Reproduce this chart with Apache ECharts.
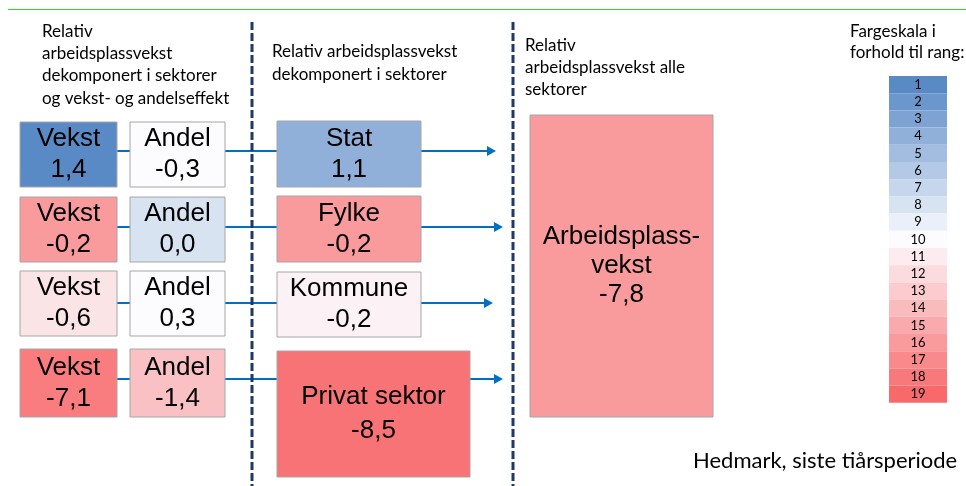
<!DOCTYPE html>
<html>
<head>
<meta charset="utf-8">
<script src="https://cdn.jsdelivr.net/npm/echarts@6/dist/echarts.min.js"></script>
<style>
html, body { margin: 0; padding: 0; background: #fff; }
#main { width: 966px; height: 486px; }
</style>
</head>
<body>
<div id="main"></div>
<script>
// data
var sectors = ['Stat', 'Fylke', 'Kommune', 'Privat sektor'];
var vekstValues = [1.4, -0.2, -0.6, -7.1];
var andelValues = [-0.3, 0.0, 0.3, -1.4];
var sectorValues = [1.1, -0.2, -0.2, -8.5];
var totalValue = -7.8;
// rang for fargeskala (1 = best, 19 = svakest)
var vekstRanks = [1, 16, 11.5, 17.8];
var andelRanks = [10, 8, 10, 13.6];
var sectorRanks = [4, 16, 10.6, 18.4];
var totalRank = 16;
var scaleRanks = [1, 2, 3, 4, 5, 6, 7, 8, 9, 10, 11, 12, 13, 14, 15, 16, 17, 18, 19];

// layout (pixels)
var rowTop = [122, 197, 271, 349];
var rowBottom = [187, 262, 336, 417];
var sectorTop = [121, 196, 272, 351];
var sectorBottom = [187, 262, 337, 477];
var sectorRight = [421, 421, 421, 470];
var arrowY = [151, 227, 303, 379];
var arrowTip = [496, 503, 493, 503];
var vekstX = [20, 117], andelX = [130, 225], sectorLeft = 277;
var scaleX = [889, 947], scaleTop = 76, scaleCell = 17.2;

function fmt(v) {
    return v.toFixed(1).replace('.', ',');
}

var boxes = [];
for (var i = 0; i < sectors.length; i++) {
    boxes.push([vekstX[0], rowTop[i], vekstX[1], rowBottom[i], vekstRanks[i], 'Vekst\n' + fmt(vekstValues[i]), 31]);
    boxes.push([andelX[0], rowTop[i], andelX[1], rowBottom[i], andelRanks[i], 'Andel\n' + fmt(andelValues[i]), 31]);
    boxes.push([sectorLeft, sectorTop[i], sectorRight[i], sectorBottom[i], sectorRanks[i], sectors[i] + '\n' + fmt(sectorValues[i]), i === 3 ? 34 : 31]);
}
boxes.push([530, 115, 713, 417, totalRank, 'Arbeidsplass-\nvekst\n' + fmt(totalValue), 29]);

var cells = scaleRanks.map(function (r) {
    return [scaleX[0], scaleTop + (r - 1) * scaleCell, scaleX[1], scaleTop + r * scaleCell, r, String(r)];
});

var arrows = [];
for (var j = 0; j < sectors.length; j++) {
    arrows.push([j]);
}

var myChart = echarts.init(document.getElementById('main'));

function rectItem(api, text, font, lh, stroke) {
    var p0 = api.coord([api.value(0), api.value(1)]);
    var p1 = api.coord([api.value(2), api.value(3)]);
    return {
        type: 'rect',
        shape: { x: p0[0], y: p0[1], width: p1[0] - p0[0], height: p1[1] - p0[1] },
        style: { fill: api.visual('color'), stroke: stroke, lineWidth: stroke ? 1 : 0 },
        textContent: {
            style: { text: text, font: font, fill: '#000', align: 'center', lineHeight: lh }
        },
        textConfig: { position: 'inside' }
    };
}

myChart.setOption({
    animation: false,
    grid: { left: 0, right: 0, top: 0, bottom: 0 },
    xAxis: { type: 'value', min: 0, max: 966, show: false },
    yAxis: { type: 'value', min: 0, max: 486, inverse: true, show: false },
    visualMap: {
        show: false,
        type: 'continuous',
        min: 1,
        max: 19,
        dimension: 4,
        seriesIndex: [1, 2],
        inRange: { color: ['#5A8AC6', '#FCFCFF', '#F8696B'] }
    },
    graphic: [
        { type: 'line', shape: { x1: 8, y1: 9.5, x2: 966, y2: 9.5 }, style: { stroke: '#2edc2e', lineWidth: 1 } },
        { type: 'text', x: 42, y: 20, style: { text: 'Relativ\narbeidsplassvekst\ndekomponert i sektorer\nog vekst- og andelseffekt', font: '17px Lato', fill: '#000', lineHeight: 22.3 } },
        { type: 'text', x: 272, y: 40, style: { text: 'Relativ arbeidsplassvekst\ndekomponert i sektorer', font: '17px Lato', fill: '#000', lineHeight: 23 } },
        { type: 'text', x: 525, y: 35, style: { text: 'Relativ\narbeidsplassvekst alle\nsektorer', font: '17px Lato', fill: '#000', lineHeight: 22 } },
        { type: 'text', x: 850, y: 21, style: { text: 'Fargeskala i\nforhold til rang:', font: '17px Lato', fill: '#000', lineHeight: 21 } },
        { type: 'text', x: 693, y: 450, style: { text: 'Hedmark, siste tiårsperiode', font: '22px Lato', fill: '#000' } }
    ],
    series: [
        {
            // piler og koblinger
            type: 'custom',
            data: arrows,
            z: 1,
            renderItem: function (params, api) {
                var k = api.value(0);
                var y = api.coord([0, arrowY[k]])[1];
                var x = function (v) { return api.coord([v, 0])[0]; };
                var tip = x(arrowTip[k]);
                var ls = { stroke: '#0070c0', lineWidth: 2 };
                return {
                    type: 'group',
                    children: [
                        { type: 'line', shape: { x1: x(vekstX[1]), y1: y, x2: x(andelX[0]), y2: y }, style: ls },
                        { type: 'line', shape: { x1: x(andelX[1]), y1: y, x2: x(sectorLeft), y2: y }, style: ls },
                        { type: 'line', shape: { x1: x(sectorRight[k]), y1: y, x2: tip - 8, y2: y }, style: ls },
                        { type: 'polygon', shape: { points: [[tip - 9, y - 5], [tip, y], [tip - 9, y + 5]] }, style: { fill: '#0070c0' } }
                    ]
                };
            }
        },
        {
            // bokser
            type: 'custom',
            data: boxes,
            z: 2,
            renderItem: function (params, api) {
                var b = boxes[params.dataIndex];
                return rectItem(api, b[5], '26px "Liberation Sans"', b[6], '#a6a6a6');
            }
        },
        {
            // fargeskala
            type: 'custom',
            data: cells,
            z: 2,
            renderItem: function (params, api) {
                var c = cells[params.dataIndex];
                return rectItem(api, c[5], '13px Lato', 14, null);
            }
        },
        {
            // stiplede skillelinjer
            type: 'custom',
            data: [[252], [513]],
            z: 3,
            renderItem: function (params, api) {
                var p0 = api.coord([api.value(0), 22]);
                var p1 = api.coord([api.value(0), 486]);
                return {
                    type: 'line',
                    shape: { x1: p0[0], y1: p0[1], x2: p1[0], y2: p1[1] },
                    style: { stroke: '#1f3864', lineWidth: 3, lineDash: [8, 3] }
                };
            }
        }
    ]
});
</script>
</body>
</html>
